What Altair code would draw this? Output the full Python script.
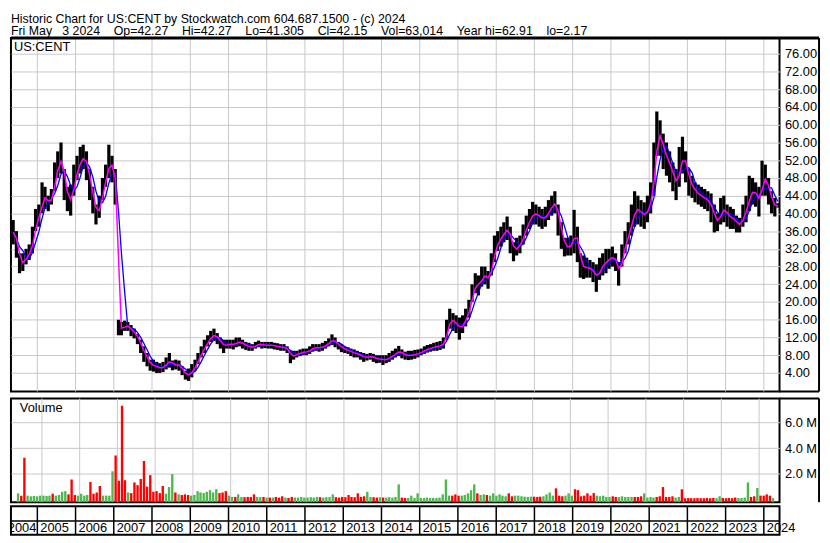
import altair as alt
import pandas as pd

FONT = "Liberation Sans"
GRID = "#c8c8c8"
W, HP, HV, HA = 778, 358, 105, 29

SP = "\u00a0\u00a0\u00a0\u00a0"
title_1 = "Historic Chart for US:CENT by Stockwatch.com 604.687.1500 - (c) 2024"
title_2 = ("Fri May\u00a0\u00a0\u00a03 2024" + SP + "Op=42.27" + SP + "Hi=42.27" + SP + "Lo=41.305" + SP
           + "Cl=42.15" + SP + "Vol=63,014" + SP + "Year hi=62.91" + SP + "lo=2.17")
symbol = "US:CENT"

# monthly high / low envelope of the daily bars, and monthly peak volume (millions)
hi04 = [38.5, 36, 31, 31, 32, 33, 37, 41]
lo04 = [33, 30, 26.5, 27, 28.5, 29.5, 31, 36]
vol04 = [0.48, 0.3, 3.25, 0.3, 0.25, 0.28, 0.25, 0.3]
hi05 = [42, 47, 46, 44, 45.5, 51.5, 54, 56, 50, 46, 46.5, 51]
lo05 = [37, 40, 41, 40.5, 42, 45, 48, 49, 43, 40.5, 39.5, 44]
vol05 = [0.3, 0.28, 0.3, 0.45, 0.3, 0.35, 0.6, 0.65, 0.4, 1.56, 0.35, 0.3]
hi06 = [53, 55, 55.5, 54, 50, 46, 42, 44, 48, 51, 55.5, 53]
lo06 = [47.5, 49, 50, 47.5, 43, 40, 37.5, 39, 43, 46, 48, 47]
vol06 = [0.45, 0.3, 0.35, 1.36, 0.45, 0.55, 1.05, 0.3, 0.3, 0.3, 2.2, 3.43]
hi07 = [50, 16, 15.5, 15.8, 15.5, 14.8, 14, 12.8, 11.5, 10, 8.5, 7]
lo07 = [42, 12.5, 12.5, 13.5, 13.5, 12.3, 11.8, 10.5, 8.5, 6.5, 5.5, 4.5]
vol07 = [1.46, 7.3, 1.5, 0.55, 0.5, 1.33, 1.12, 1.6, 3.0, 1.0, 1.9, 0.6]
hi08 = [7, 6.5, 6.2, 6.5, 7.5, 8.5, 6.8, 7, 6.8, 5.5, 4.5, 5]
lo08 = [4.3, 4, 4, 4.2, 4.8, 5.2, 4.6, 4.8, 4.5, 3.5, 2.5, 2.2]
vol08 = [0.65, 0.5, 1.05, 0.45, 0.97, 1.98, 0.55, 0.4, 0.35, 0.4, 0.35, 0.3]
hi09 = [6, 7, 8.5, 10, 11.5, 12.5, 13.5, 14, 13, 12, 11.5, 11.5]
lo09 = [3, 4.5, 6, 7.5, 8.5, 10, 11, 11.2, 10.5, 9.5, 8.5, 9.5]
vol09 = [0.35, 0.65, 0.55, 0.5, 0.6, 0.73, 0.55, 0.8, 0.5, 0.55, 0.65, 0.3]
hi10 = [11.5, 11.5, 12, 12, 11.5, 11, 10.8, 10.5, 11, 11.3, 11, 11]
lo10 = [9.5, 9.3, 9.8, 10, 9.5, 9.2, 9, 9, 9.5, 9.8, 9.5, 9.6]
vol10 = [0.2, 0.2, 0.4, 0.2, 0.18, 0.2, 0.2, 0.4, 0.2, 0.18, 0.2, 0.15]
hi11 = [11, 11, 10.8, 10.7, 10.5, 10.5, 10, 9, 9, 9, 9.3, 9.5]
lo11 = [9.5, 9.5, 9.3, 9.2, 9, 9, 8.5, 6.2, 7, 7.5, 7.8, 8]
vol11 = [0.15, 0.15, 0.2, 0.15, 0.25, 0.15, 0.12, 0.2, 0.15, 0.15, 0.2, 0.15]
hi12 = [9.5, 10, 10.5, 10.5, 10.5, 10.8, 11.2, 11.8, 12.7, 12, 11, 10.5]
lo12 = [8, 8.3, 8.8, 9, 8.8, 9, 9.5, 10, 10.3, 9.8, 9.3, 8.7]
vol12 = [0.15, 0.18, 0.15, 0.2, 0.18, 0.15, 0.18, 0.2, 0.4, 0.18, 0.15, 0.2]
hi13 = [10, 9.8, 9.5, 9.3, 9, 8.7, 8.5, 8.3, 8.5, 8.3, 8, 8]
lo13 = [8.5, 8.3, 7.8, 7.5, 7.5, 7, 6.5, 6.8, 7, 6.5, 6.2, 6.3]
vol13 = [0.18, 0.35, 0.2, 0.18, 0.48, 0.2, 0.25, 0.6, 0.2, 0.18, 0.15, 0.18]
hi14 = [8, 8, 8.5, 9, 9.5, 10.1, 9.3, 8.8, 9, 9, 9.2, 9.3]
lo14 = [5.8, 6.2, 6.5, 7, 7.5, 7.8, 7.3, 7, 6.9, 7, 7.2, 7.5]
vol14 = [0.15, 0.15, 0.18, 0.15, 0.2, 1.18, 0.15, 0.12, 0.12, 0.3, 0.12, 0.48]
hi15 = [9.5, 10, 10.3, 10.5, 10.8, 11, 11.2, 12, 16, 18.5, 17.5, 17]
lo15 = [8, 8.3, 8.6, 8.8, 9, 9, 9.2, 9.5, 11.5, 14, 13.5, 13]
vol15 = [0.12, 0.12, 0.15, 0.12, 0.12, 0.12, 0.15, 0.4, 1.56, 0.3, 0.3, 0.4]
hi16 = [16.5, 17, 18.5, 20.5, 24, 26.5, 26, 28, 28, 27, 31, 35]
lo16 = [11.5, 13, 14.5, 16.5, 20, 22, 21.5, 23.5, 24, 23, 26, 29]
vol16 = [0.3, 0.3, 0.35, 0.48, 0.72, 1.18, 0.48, 0.35, 0.4, 0.35, 0.3, 0.48]
hi17 = [36, 37, 38, 39.3, 37, 33.5, 34.5, 35, 37.5, 39.5, 41, 42.6]
lo17 = [31.5, 32.5, 33.5, 34, 31, 29.2, 30.5, 31, 33, 35, 36.5, 37.5]
vol17 = [0.3, 0.4, 0.3, 0.25, 0.48, 0.25, 0.3, 0.3, 0.25, 0.22, 0.2, 0.22]
hi18 = [42, 41.5, 41, 41.5, 43, 44, 45, 42, 38, 34.5, 34.5, 35]
lo18 = [37.5, 37, 36.5, 37, 38.5, 39.5, 40, 35, 32, 30.3, 30.5, 30.5]
vol18 = [0.22, 0.2, 0.22, 0.25, 0.4, 0.55, 0.3, 0.87, 0.3, 0.25, 0.3, 0.48]
hi19 = [40.8, 37, 31, 30.5, 30, 29.5, 29, 28.5, 30, 31, 32, 32]
lo19 = [31, 29, 25.5, 25.2, 25.5, 25.5, 24.5, 22.3, 25, 26, 26.5, 27.5]
vol19 = [0.3, 0.8, 0.73, 0.25, 0.3, 0.48, 0.3, 0.5, 0.3, 0.25, 0.3, 0.2]
hi20 = [32.5, 31, 29, 33, 36, 38, 42, 45, 44, 43, 42.5, 44]
lo20 = [28, 27, 23.7, 28, 31, 33, 35, 37, 37.5, 37, 36.5, 38]
vol20 = [0.2, 0.25, 0.2, 0.2, 0.25, 0.2, 0.2, 0.2, 0.2, 0.2, 0.25, 0.48]
hi21 = [47, 56, 63, 61, 58, 56, 54, 51.5, 50, 55, 57.3, 54]
lo21 = [40, 44, 53, 53, 50, 48.5, 47, 45, 43, 46, 49, 47]
vol21 = [0.15, 0.2, 0.15, 0.2, 0.25, 0.97, 0.2, 0.2, 0.25, 0.15, 0.2, 0.8]
hi22 = [50, 48.5, 47, 46.5, 46, 45.5, 45, 44.5, 42, 40, 43.5, 44]
lo22 = [44, 43.5, 42.5, 42, 41.5, 41, 40.5, 38, 35.7, 36, 37.5, 38]
vol22 = [0.1, 0.12, 0.1, 0.1, 0.12, 0.1, 0.1, 0.12, 0.1, 0.12, 0.1, 0.25]
hi23 = [42, 41.5, 41, 39.5, 39, 42, 44, 48.5, 48, 47, 46, 51.9]
lo23 = [37, 36.5, 36.5, 35.7, 35.7, 37, 38, 40.5, 42, 41.5, 39.3, 44]
vol23 = [0.12, 0.1, 0.12, 0.1, 0.15, 0.12, 0.12, 0.15, 1.33, 0.2, 0.25, 0.9]
hi24 = [51, 48, 45, 43.5, 42.3]
lo24 = [44, 42, 40, 39.3, 41.3]
vol24 = [0.3, 0.3, 0.4, 0.3, 0.1]

hi = (hi04 + hi05 + hi06 + hi07 + hi08 + hi09 + hi10 + hi11 + hi12 + hi13 + hi14
      + hi15 + hi16 + hi17 + hi18 + hi19 + hi20 + hi21 + hi22 + hi23 + hi24)
lo = (lo04 + lo05 + lo06 + lo07 + lo08 + lo09 + lo10 + lo11 + lo12 + lo13 + lo14
      + lo15 + lo16 + lo17 + lo18 + lo19 + lo20 + lo21 + lo22 + lo23 + lo24)
vol = (vol04 + vol05 + vol06 + vol07 + vol08 + vol09 + vol10 + vol11 + vol12 + vol13 + vol14
       + vol15 + vol16 + vol17 + vol18 + vol19 + vol20 + vol21 + vol22 + vol23 + vol24)

price_ticks = list(range(4, 77, 4))
vol_ticks = [2, 4, 6]
grid_years = list(range(2005, 2025))
label_years = list(range(2004, 2025))

months = pd.date_range("2004-05-01", periods=len(hi), freq="MS") + pd.Timedelta(days=14)
df = pd.DataFrame({"date": months, "hi": hi, "lo": lo, "vol": vol})
years_df = pd.DataFrame({"date": pd.to_datetime([f"{y}-01-01" for y in grid_years])})
labels_df = pd.DataFrame({"date": pd.to_datetime([f"{y}-01-01" for y in label_years[1:]]),
                          "label": [str(y) for y in label_years[1:]]})
first_label_df = pd.DataFrame({"date": pd.to_datetime([f"{label_years[1]}-01-01"]),
                               "label": [str(label_years[0])]})
one = pd.DataFrame({"k": [0]})

xs = alt.Scale(domain=[alt.DateTime(year=2004, month=4, date=24),
                       alt.DateTime(year=2024, month=5, date=30)])
X = alt.X("date:T", scale=xs, axis=None)

base = alt.Chart(df).transform_calculate(mid="(datum.hi + datum.lo) / 2")


def txt(s, x, y, size=13, **kw):
    return alt.Chart(one).mark_text(text=s, align="left", baseline="middle", fontSize=size,
                                    font=FONT, color="black", **kw).encode(
        x=alt.value(x), y=alt.value(y))


def hline(x1, x2, y, w=2):
    return alt.Chart(one).mark_rule(color="black", strokeWidth=w).encode(
        x=alt.value(x1), x2=alt.value(x2), y=alt.value(y))


def vline(x, y1, y2, w=2):
    return alt.Chart(one).mark_rule(color="black", strokeWidth=w).encode(
        x=alt.value(x), y=alt.value(y1), y2=alt.value(y2))


vgrid = alt.Chart(years_df).mark_rule(color=GRID, strokeWidth=1).encode(x=X)

# ---------------- price panel ----------------
price_axis = alt.Axis(orient="right", values=price_ticks, format=".2f", grid=True,
                      gridColor=GRID, gridWidth=1, ticks=False, domain=False,
                      labelPadding=5, labelFontSize=13, labelFont=FONT, labelOverlap=False,
                      labelColor="black", title=None)
py = alt.Scale(domain=[-0.2, 79.6])

bars = base.mark_rule(color="black", strokeWidth=3.25).encode(
    x=X, y=alt.Y("lo:Q", scale=py, axis=price_axis), y2="hi:Q")
slow = base.transform_window(ma_slow="mean(mid)", frame=[-3, 0], sort=[alt.SortField("date")]).mark_line(
    color="#0000ff", strokeWidth=1.3).encode(x=X, y=alt.Y("ma_slow:Q", scale=py, axis=price_axis))
fast = base.transform_window(ma_fast="mean(mid)", frame=[-1, 0], sort=[alt.SortField("date")]).mark_line(
    color="#ff00ff", strokeWidth=1.5).encode(x=X, y=alt.Y("ma_fast:Q", scale=py, axis=price_axis))

price = alt.layer(
    vgrid, bars, slow, fast,
    txt(symbol, 3, 9),
    txt(title_1, 0, -19.5, 12.5),
    txt(title_2, 0, -6.5, 12.5),
    hline(0, W + 40, 0, 3),
    hline(W, W + 40, HP, 2),
    vline(W + 40, 0, HP, 2),
).properties(width=W, height=HP)

# ---------------- volume panel ----------------
vol_axis = alt.Axis(orient="right", values=vol_ticks, labelExpr="format(datum.value, '.1f') + ' M'",
                    grid=True, gridColor=GRID, gridWidth=1, ticks=False, domain=False,
                    labelPadding=5, labelFontSize=13, labelFont=FONT, labelOverlap=False,
                    labelColor="black", title=None)
vbars = base.transform_window(prev="lag(mid)", sort=[alt.SortField("date")]).transform_calculate(
    dir="datum.prev != null && datum.mid < datum.prev ? 'down' : 'up'"
).mark_bar(size=2.4).encode(
    x=X,
    y=alt.Y("vol:Q", scale=alt.Scale(domain=[-0.21, 7.87]), axis=vol_axis),
    y2=alt.datum(-0.21),
    color=alt.Color("dir:N", scale=alt.Scale(domain=["up", "down"], range=["#4db84d", "#ff0000"]),
                    legend=None),
)
volume = alt.layer(
    vgrid, vbars,
    txt("Volume", 9, 10),
    hline(W, W + 40, 0, 2),
    vline(W + 40, 0, HV, 2),
).properties(width=W, height=HV)

# ---------------- year axis row ----------------
yrules = alt.Chart(years_df).mark_rule(color="black", strokeWidth=1.5).encode(
    x=X, y=alt.value(0), y2=alt.value(HA))
ylabels = alt.Chart(labels_df).mark_text(align="left", baseline="middle", dx=3, fontSize=13,
                                         font=FONT, color="black").encode(
    x=X, y=alt.value(22), text="label:N")
yfirst = alt.Chart(first_label_df).mark_text(align="right", baseline="middle", dx=-1, fontSize=13,
                                             font=FONT, color="black", clip=True).encode(
    x=X, y=alt.value(22), text="label:N")
axisrow = alt.layer(yrules, hline(0, W, 15, 1.5), ylabels, yfirst).properties(width=W, height=HA)

chart = alt.vconcat(
    price,
    alt.vconcat(volume, axisrow, spacing=0),
    spacing=3,
).properties(padding=0).configure_view(stroke="black", strokeWidth=2)

chart.save("out.html", embed_options={"renderer": "svg", "actions": False})
